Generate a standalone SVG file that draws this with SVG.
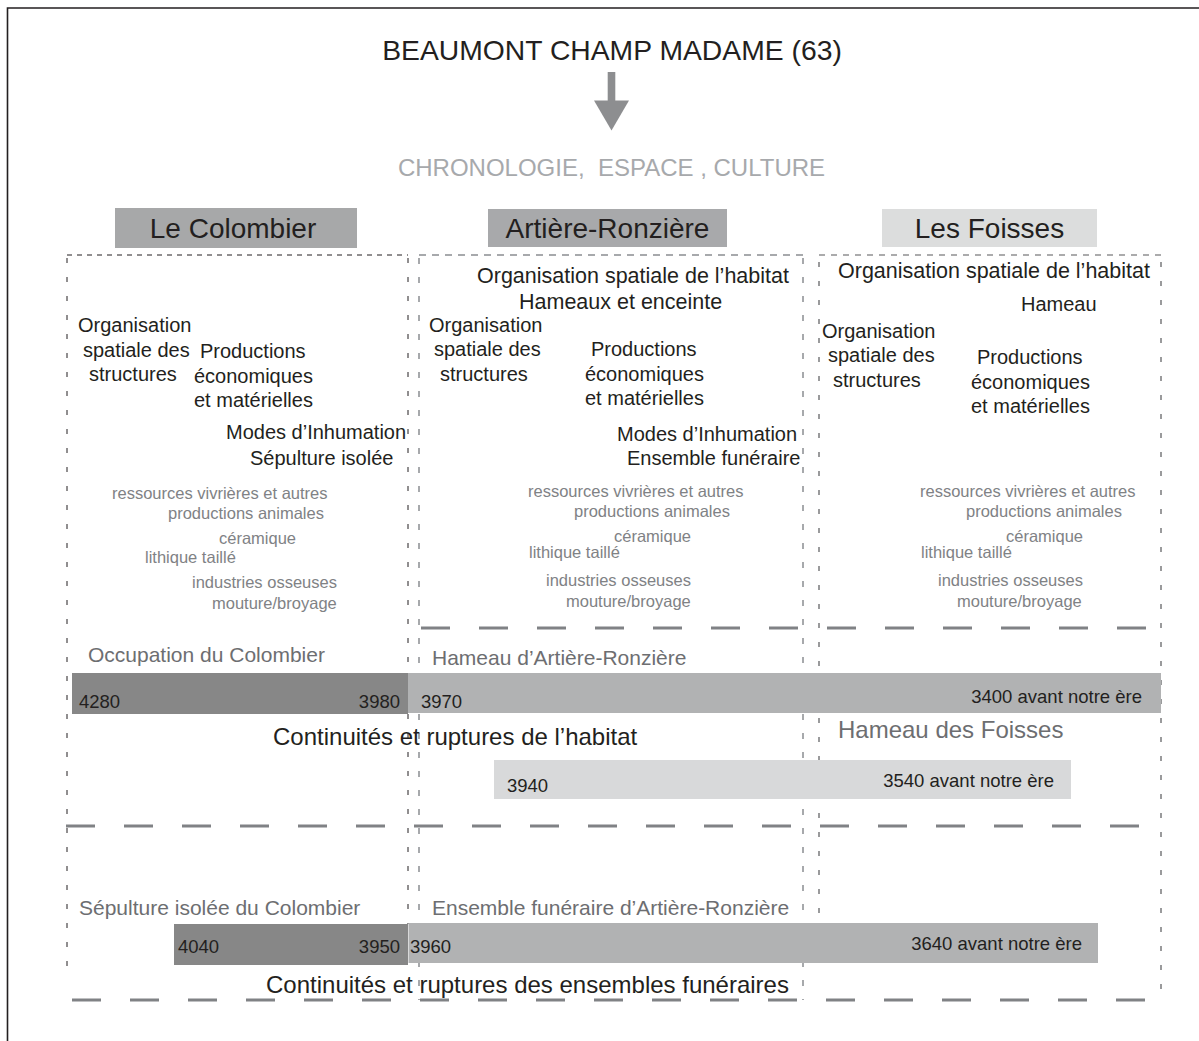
<svg xmlns="http://www.w3.org/2000/svg" width="1199" height="1041" viewBox="0 0 1199 1041">
<style>
text{font-family:"Liberation Sans",Arial,sans-serif;}
.blk{fill:#231f20;}
.t20{font-size:20px;fill:#231f20;}
.t21b{font-size:21.5px;fill:#231f20;}
.sm{font-size:16.5px;fill:#808285;}
.lab{font-size:21px;fill:#6d6e71;}
.num{font-size:18.5px;fill:#231f20;}
.hdr{font-size:28px;fill:#231f20;text-anchor:middle;}
.c1{stroke:#231f20;stroke-width:1;fill:none;}
.c2{stroke:#a7a9ac;stroke-width:2;fill:none;}
.c3{stroke:#58595b;stroke-width:1.2;fill:none;}
.ld{stroke:#808285;stroke-width:3;fill:none;stroke-dasharray:29 29;}
</style>
<rect x="0" y="0" width="1199" height="1041" fill="#ffffff"/>
<path d="M7.5 1041 V8 H1199" fill="none" stroke="#231f20" stroke-width="1.6"/>

<g id="title">
<text x="612" y="60" font-size="28.3" text-anchor="middle" class="blk">BEAUMONT CHAMP MADAME (63)</text>
</g>
<g id="connectors">
<rect x="607.7" y="72" width="7.6" height="30" fill="#8d8e90"/>
<polygon points="594,100.5 629,100.5 611.5,130.5" fill="#8d8e90"/>
</g>
<g id="subtitle">
<text x="611.5" y="176" font-size="24" text-anchor="middle" fill="#a7a9ac" style="white-space:pre">CHRONOLOGIE,  ESPACE , CULTURE</text>
</g>

<g id="frames">
<line class="c1" x1="67" y1="255" x2="408" y2="255" stroke-dasharray="5 5"/>
<line class="c1" x1="67" y1="258" x2="67" y2="976" stroke-dasharray="5 14"/>
<line class="c1" x1="408" y1="258" x2="408" y2="924" stroke-dasharray="5 14"/>
<line class="c2" x1="419" y1="255" x2="803" y2="255" stroke-dasharray="7 6"/>
<line class="c2" x1="419" y1="258" x2="419" y2="1000" stroke-dasharray="6 13"/>
<line class="c2" x1="803" y1="258" x2="803" y2="1000" stroke-dasharray="6 13"/>
<line class="c3" x1="819" y1="255" x2="1161" y2="255" stroke-dasharray="6 6"/>
<line class="c3" x1="819" y1="262" x2="819" y2="928" stroke-dasharray="5 14"/>
<line class="c3" x1="1161" y1="262" x2="1161" y2="1000" stroke-dasharray="5 14"/>
<line class="ld" x1="421" y1="628" x2="1160" y2="628"/>
<line class="ld" x1="66" y1="826" x2="1160" y2="826"/>
<line class="ld" x1="72" y1="1000" x2="1146" y2="1000"/>
</g>

<g id="h-colombier">
<rect x="115" y="208" width="242" height="40" fill="#a7a8a9"/>
<text class="hdr" x="233" y="238">Le Colombier</text>
</g>
<g id="h-artiere">
<rect x="488" y="209" width="239" height="38" fill="#a8a9ab"/>
<text class="hdr" x="607.5" y="238">Artière-Ronzière</text>
</g>
<g id="h-foisses">
<rect x="882" y="209" width="215" height="38" fill="#dcdddd"/>
<text class="hdr" x="989.5" y="238">Les Foisses</text>
</g>

<g id="col-colombier">
<text class="t20" x="78" y="332">Organisation</text>
<text class="t20" x="83" y="357">spatiale des</text>
<text class="t20" x="89" y="381">structures</text>
<text class="t20" x="200" y="358">Productions</text>
<text class="t20" x="194" y="383">économiques</text>
<text class="t20" x="194" y="407">et matérielles</text>
<text class="t20" x="226" y="439">Modes d’Inhumation</text>
<text class="t20" x="250" y="465">Sépulture isolée</text>
<text class="sm" x="112" y="499">ressources vivrières et autres</text>
<text class="sm" x="168" y="519">productions animales</text>
<text class="sm" x="219" y="544">céramique</text>
<text class="sm" x="145" y="563">lithique taillé</text>
<text class="sm" x="192" y="588">industries osseuses</text>
<text class="sm" x="212" y="609">mouture/broyage</text>
</g>

<g id="col-artiere">
<text class="t21b" x="477" y="283">Organisation spatiale de l’habitat</text>
<text class="t21b" x="519" y="309">Hameaux et enceinte</text>
<text class="t20" x="429" y="332">Organisation</text>
<text class="t20" x="434" y="356">spatiale des</text>
<text class="t20" x="440" y="381">structures</text>
<text class="t20" x="591" y="356">Productions</text>
<text class="t20" x="585" y="381">économiques</text>
<text class="t20" x="585" y="405">et matérielles</text>
<text class="t20" x="617" y="441">Modes d’Inhumation</text>
<text class="t20" x="627" y="465">Ensemble funéraire</text>
<text class="sm" x="528" y="497">ressources vivrières et autres</text>
<text class="sm" x="574" y="517">productions animales</text>
<text class="sm" x="614" y="542">céramique</text>
<text class="sm" x="529" y="558">lithique taillé</text>
<text class="sm" x="546" y="586">industries osseuses</text>
<text class="sm" x="566" y="607">mouture/broyage</text>
</g>

<g id="col-foisses">
<text class="t21b" x="838" y="278">Organisation spatiale de l’habitat</text>
<text class="t20" x="1021" y="311">Hameau</text>
<text class="t20" x="822" y="338">Organisation</text>
<text class="t20" x="828" y="362">spatiale des</text>
<text class="t20" x="833" y="387">structures</text>
<text class="t20" x="977" y="364">Productions</text>
<text class="t20" x="971" y="389">économiques</text>
<text class="t20" x="971" y="413">et matérielles</text>
<text class="sm" x="920" y="497">ressources vivrières et autres</text>
<text class="sm" x="966" y="517">productions animales</text>
<text class="sm" x="1006" y="542">céramique</text>
<text class="sm" x="921" y="558">lithique taillé</text>
<text class="sm" x="938" y="586">industries osseuses</text>
<text class="sm" x="957" y="607">mouture/broyage</text>
</g>

<g id="habitat">
<text class="lab" x="88" y="662">Occupation du Colombier</text>
<text class="lab" x="432" y="665">Hameau d’Artière-Ronzière</text>
<rect x="72" y="673" width="336" height="41" fill="#878787"/>
<rect x="408" y="673" width="753" height="40" fill="#b1b2b3"/>
<text class="num" x="79" y="708">4280</text>
<text class="num" x="400" y="708" text-anchor="end">3980</text>
<text class="num" x="421" y="708">3970</text>
<text class="num" x="1142" y="703" text-anchor="end">3400 avant notre ère</text>
<text x="273" y="745" font-size="24" class="blk">Continuités et ruptures de l’habitat</text>
<text x="838" y="738" font-size="24" fill="#6d6e71">Hameau des Foisses</text>
<rect x="494" y="760" width="577" height="39" fill="#d8d9da"/>
<text class="num" x="507" y="792">3940</text>
<text class="num" x="1054" y="787" text-anchor="end">3540 avant notre ère</text>
</g>

<g id="funeraire">
<text class="lab" x="79" y="915">Sépulture isolée du Colombier</text>
<text class="lab" x="432" y="915">Ensemble funéraire d’Artière-Ronzière</text>
<rect x="174" y="924" width="234" height="41" fill="#878787"/>
<rect x="408.5" y="923" width="689.5" height="40" fill="#b1b2b3"/>
<text class="num" x="178" y="953">4040</text>
<text class="num" x="400" y="953" text-anchor="end">3950</text>
<text class="num" x="410" y="953">3960</text>
<text class="num" x="1082" y="950" text-anchor="end">3640 avant notre ère</text>
<text x="266" y="993" font-size="24" class="blk">Continuités et ruptures des ensembles funéraires</text>
</g>
</svg>
